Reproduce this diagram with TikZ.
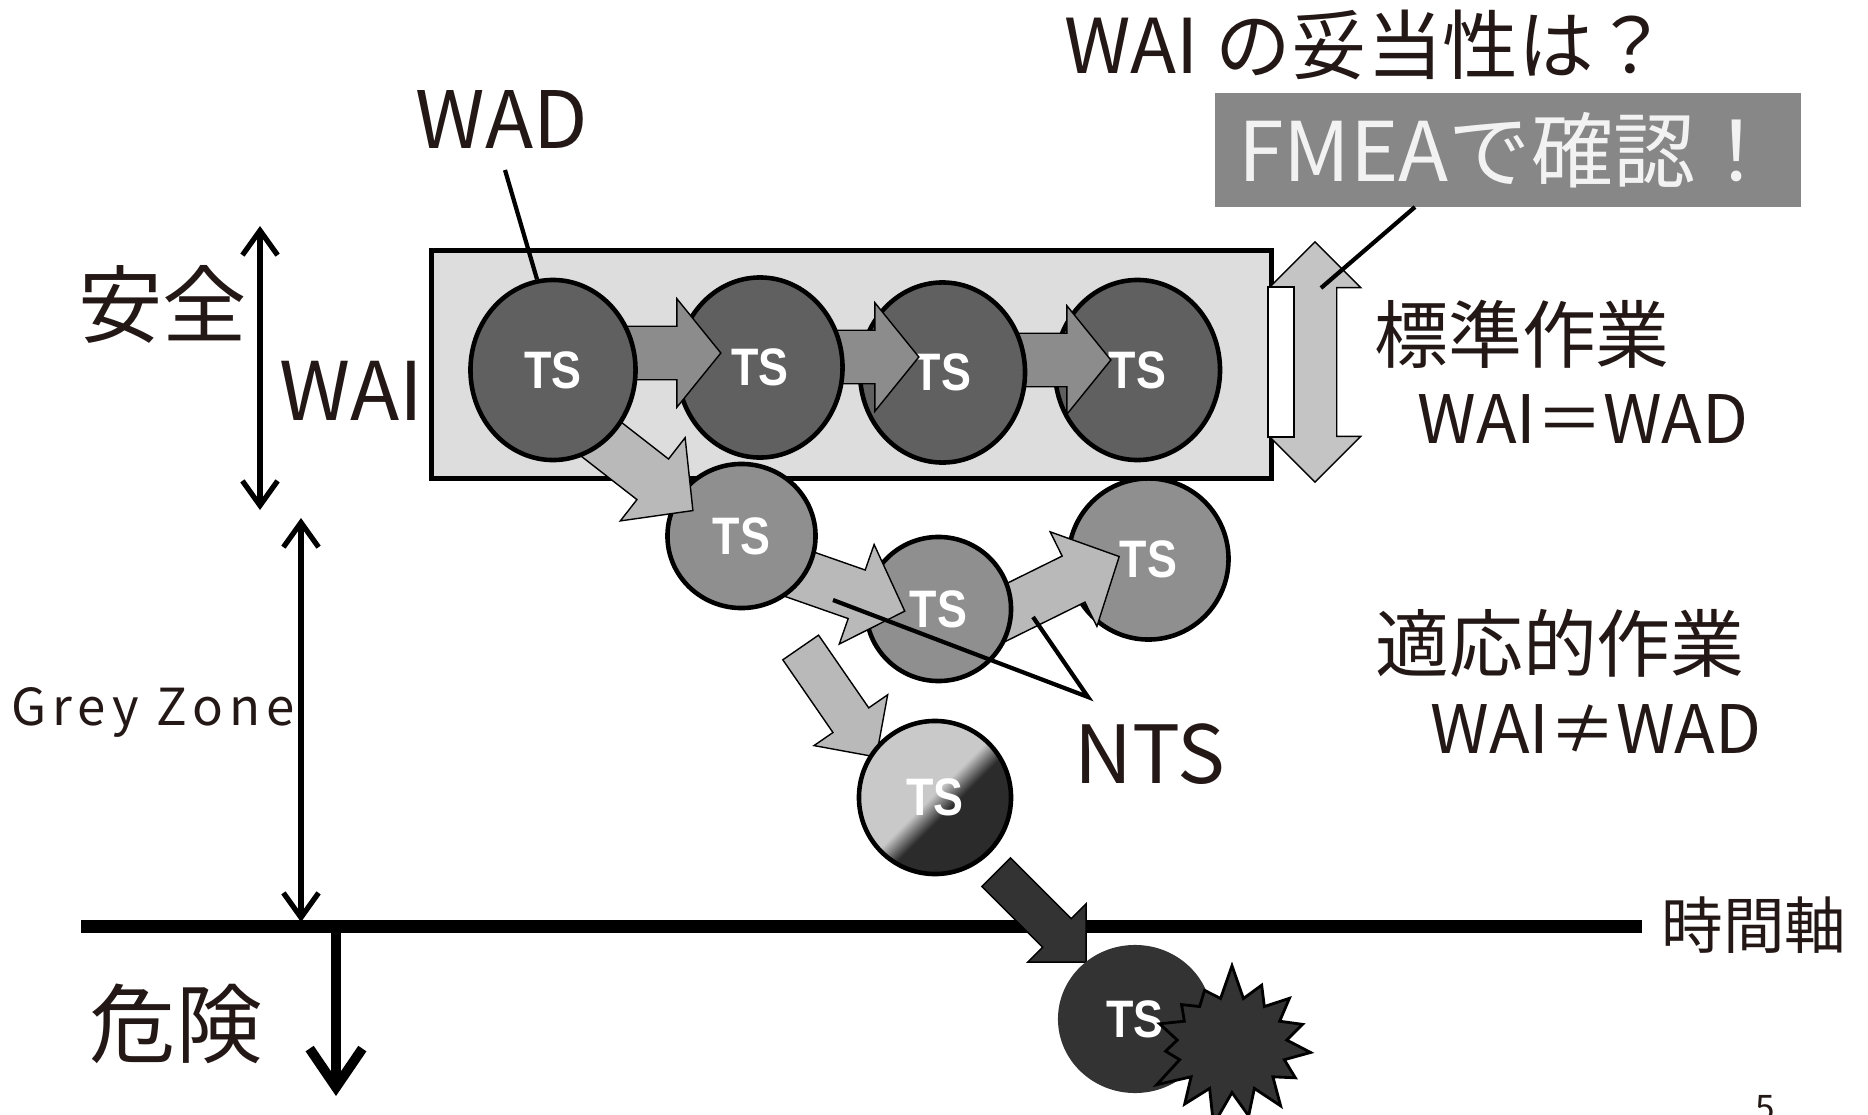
\documentclass[tikz,border=0pt]{standalone}
\usepackage{fontspec}
\setmainfont{Noto Sans CJK JP}
\newfontfamily\tsfont[FakeStretch=0.85]{Liberation Sans}
\newfontfamily\zonefont[LetterSpace=12]{Noto Sans CJK JP}
\usetikzlibrary{arrows.meta, shapes.geometric, shapes.arrows, shapes.symbols}

\newcommand{\fsize}[1]{\fontsize{#1}{#1}\selectfont}

\definecolor{ink}{HTML}{231815}
\definecolor{tsdeep}{HTML}{606060}
\definecolor{tsmid}{HTML}{8F8F8F}
\definecolor{tslight}{HTML}{C9C9C9}
\definecolor{tsblack}{HTML}{2B2B2B}
\definecolor{crash}{HTML}{333333}
\definecolor{boxfill}{HTML}{DDDDDD}
\definecolor{stepfill}{HTML}{8C8C8C}
\definecolor{driftfill}{HTML}{B9B9B9}
\definecolor{rangefill}{HTML}{C4C4C4}
\definecolor{notefill}{HTML}{878787}
\definecolor{notetext}{HTML}{F2F2F2}

\pgfdeclarehorizontalshading{tsfade}{100bp}{color(0bp)=(tslight); color(49bp)=(tslight); color(56bp)=(tsblack); color(100bp)=(tsblack)}

\begin{document}
\begin{tikzpicture}[x=0.01cm, y=-0.01cm,
    ts/.style={ellipse, draw, line width=1.3pt, inner sep=0pt, text=white, font=\tsfont\bfseries\fsize{15}},
    tstop/.style={ts, fill=tsdeep, minimum width=1.65cm, minimum height=1.80cm},
    steparrow/.style={single arrow, draw, thin, fill=stepfill, inner xsep=0pt, inner ysep=0.26cm, minimum width=1.07cm, single arrow head extend=0.275cm, single arrow tip angle=102},
    driftarrow/.style={single arrow, draw, thin, fill=driftfill, inner xsep=0pt, inner ysep=0.25cm, minimum width=1.04cm, single arrow head extend=0.27cm, single arrow tip angle=92},
    lbl/.style={text=ink, inner sep=0pt},
    span/.style={line width=1.5pt, {Straight Barb[length=7pt,width=10pt]}-{Straight Barb[length=7pt,width=10pt]}}
  ]
  \useasboundingbox (0,0) rectangle (1868,1115);

  \node[draw, fill=boxfill, line width=1.4pt, inner sep=0pt, minimum width=8.39cm, minimum height=2.27cm] (stdbox) at (851.5,364.5) {};
  \node[double arrow, draw, thin, fill=rangefill, inner xsep=0pt, inner ysep=0.21cm, rotate=90, minimum height=2.40cm, minimum width=0.90cm, double arrow head extend=0.24cm, double arrow tip angle=90] (stdrange) at (1315,362) {};
  \draw[thin, fill=white] (1268,287) rectangle (1294,437);

  \node[tstop] (e4) at (1137.5,370) {TS};
  \node[steparrow, minimum height=0.95cm] (a3) at (1052.5,360) {};
  \node[tstop] (e3) at (942.5,372.5) {TS};
  \node[steparrow, minimum height=0.93cm] (a2) at (861.5,357) {};
  \node[tstop] (e2) at (760,367.5) {TS};
  \node[steparrow, minimum height=0.95cm] (a1) at (662.5,353) {};

  \node[ts, fill=tsmid, minimum width=1.60cm, minimum height=1.61cm] (e7) at (1148.5,559) {TS};
  \node[driftarrow, minimum height=1.50cm, rotate=26.3] (b3) at (1040.8,595.3) {};
  \node[ts, fill=tsmid, minimum width=1.45cm, minimum height=1.44cm] (e6) at (938.5,609) {TS};
  \node[driftarrow, minimum height=1.35cm, rotate=-19.3] (b2) at (829.3,584.7) {};
  \node[ts, fill=tsmid, minimum width=1.48cm, minimum height=1.44cm] (e5) at (741.5,536) {TS};
  \node[driftarrow, minimum height=1.30cm, rotate=-37.9] (b1) at (631.8,463) {};
  \node[tstop] (e1) at (553,370) {TS};

  \node[driftarrow, inner ysep=0.21cm, minimum width=0.88cm, single arrow head extend=0.23cm, single arrow tip angle=90, minimum height=1.33cm, rotate=-55.4] (b4) at (832.3,693.3) {};
  \node[ts, shading=tsfade, shading angle=-45, minimum width=1.52cm, minimum height=1.53cm] (e8) at (935,797.5) {TS};

  \coordinate (axisL) at (81,926.5);
  \coordinate (axisR) at (1642,926.5);
  \draw[line width=3.7pt] (axisL) -- (axisR);
  \node[single arrow, draw, thin, fill=crash, inner xsep=0pt, inner ysep=0.195cm, minimum width=0.81cm, single arrow head extend=0.21cm, single arrow tip angle=90, minimum height=1.27cm, rotate=-45] (c1) at (1034,910) {};

  \node[ts, draw=none, fill=crash, minimum width=1.54cm, minimum height=1.48cm] (e9) at (1135,1019) {TS};
  \node[starburst, draw, fill=crash, line width=0.8pt, inner sep=0pt, starburst points=15, starburst point height=0.35cm, random starburst=7, minimum width=1.8cm, minimum height=1.65cm] (boom) at (1232,1045) {};

  \coordinate (ntsA) at (833,600);
  \coordinate (ntsV) at (1088,697);
  \coordinate (ntsB) at (1033,617);
  \draw[line width=1.2pt] (ntsA) -- (ntsV) -- (ntsB);

  \node[lbl, font=\fsize{21.5}] (title) at (1367,45) {WAI の妥当性は？};
  \node[fill=notefill, text=notetext, inner sep=0pt, minimum width=5.86cm, minimum height=1.14cm, font=\fsize{23.4}] (fmea) at (1508,150) {FMEAで確認！};
  \coordinate (fmeafoot) at (1415,207);
  \coordinate (rangetop) at (1321,288);
  \draw[line width=1.2pt] (fmeafoot) -- (rangetop);

  \node[lbl, font=\fsize{22.5}] (wad) at (502,119) {WAD};
  \coordinate (wadfoot) at (505,170);
  \draw[line width=1.2pt] (wadfoot) -- (e1.100);

  \node[lbl, font=\fsize{24}] (safe) at (163,304) {安全};
  \node[lbl, font=\fsize{23}] (wai) at (351,391) {WAI};
  \node[lbl, font=\zonefont\fsize{14.5}] (grey) at (153,712) {Grey Zone};
  \node[lbl, font=\fsize{24.5}] (danger) at (176,1024) {危険};

  \coordinate (safetop) at (260,226);
  \coordinate (safebot) at (260,510);
  \coordinate (greytop) at (301,518);
  \coordinate (greybot) at (301,922);
  \coordinate (dangertop) at (336,930);
  \coordinate (dangerbot) at (336,1096);
  \draw[span] (safetop) -- (safebot);
  \draw[span] (greytop) -- (greybot);
  \draw[line width=2.8pt, -{Straight Barb[length=11pt,width=15pt]}] (dangertop) -- (dangerbot);

  \node[lbl, font=\fsize{21}] (std) at (1522,334) {標準作業};
  \node[lbl, font=\fsize{19}] (eq) at (1583,419) {WAI＝WAD};
  \node[lbl, font=\fsize{21}] (adapt) at (1560,643) {適応的作業};
  \node[lbl, font=\fsize{19}] (neq) at (1596,729) {WAI≠WAD};
  \node[lbl, font=\fsize{22.8}] (nts) at (1150,754) {NTS};
  \node[lbl, font=\fsize{17.5}] (time) at (1754,925) {時間軸};
  \node[lbl, font=\fsize{10}, anchor=north] (page) at (1765,1095) {5};
\end{tikzpicture}
\end{document}
